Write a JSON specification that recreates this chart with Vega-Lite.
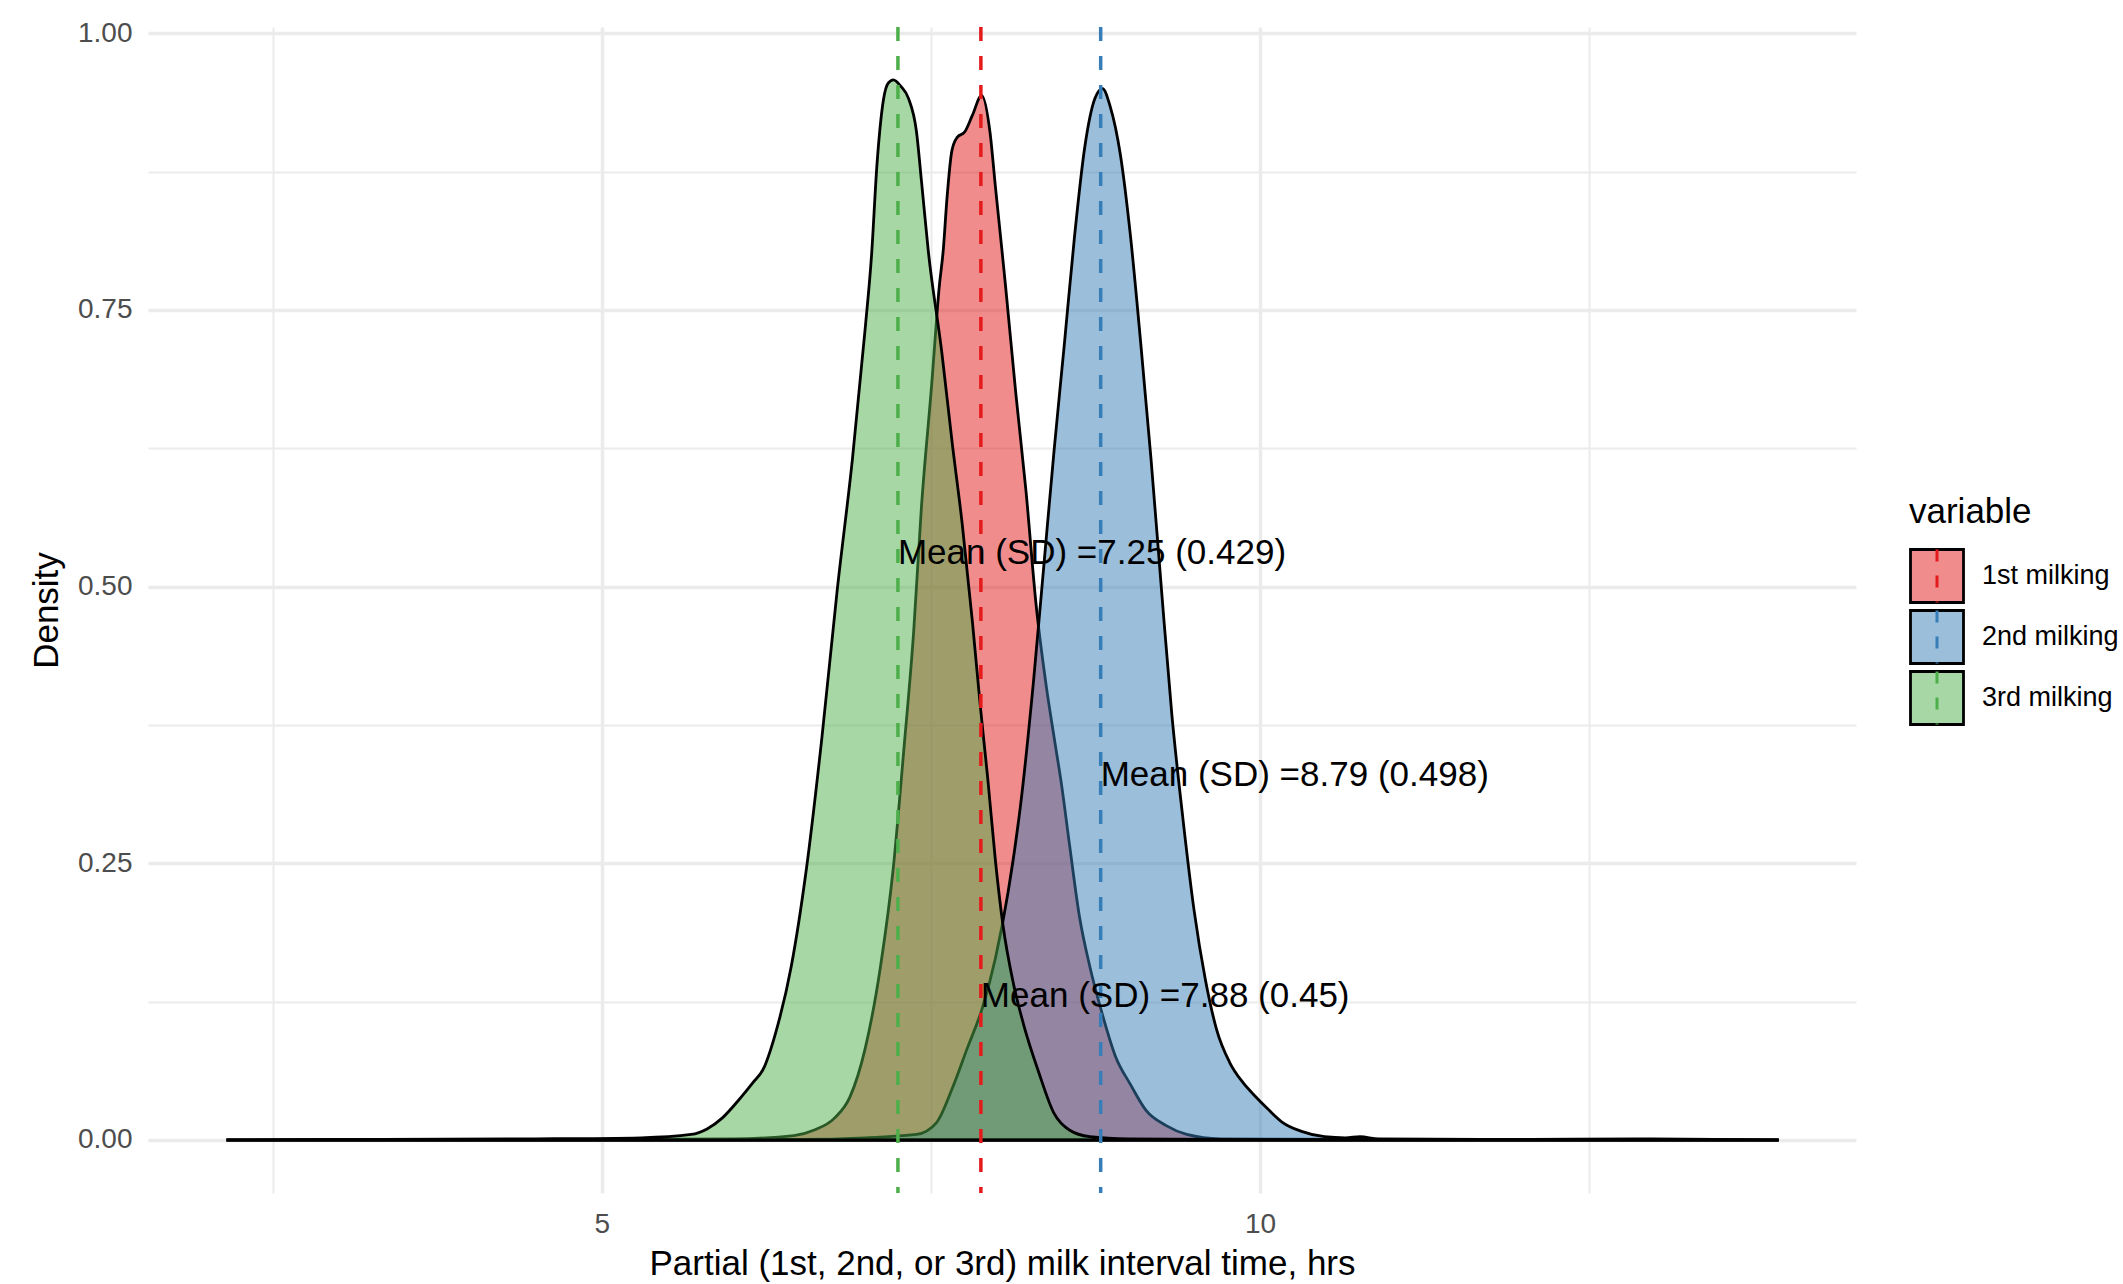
{
  "$schema": "https://vega.github.io/schema/vega-lite/v6.json",
  "autosize": "none",
  "width": 1708,
  "height": 1166,
  "padding": {"left": 148, "top": 27, "right": 267, "bottom": 91},
  "background": "white",
  "datasets": {
    "curves": [
      {"variable": "1st milking", "x": 2.15, "density": 0},
      {"variable": "1st milking", "x": 3.5, "density": 0.0005},
      {"variable": "1st milking", "x": 5.0, "density": 0.0005},
      {"variable": "1st milking", "x": 6.0, "density": 0.001},
      {"variable": "1st milking", "x": 6.46, "density": 0.004},
      {"variable": "1st milking", "x": 6.615, "density": 0.009},
      {"variable": "1st milking", "x": 6.77, "density": 0.02},
      {"variable": "1st milking", "x": 6.886, "density": 0.039},
      {"variable": "1st milking", "x": 7.002, "density": 0.083},
      {"variable": "1st milking", "x": 7.118, "density": 0.157},
      {"variable": "1st milking", "x": 7.215, "density": 0.246},
      {"variable": "1st milking", "x": 7.293, "density": 0.35},
      {"variable": "1st milking", "x": 7.37, "density": 0.46},
      {"variable": "1st milking", "x": 7.428, "density": 0.571},
      {"variable": "1st milking", "x": 7.506, "density": 0.682},
      {"variable": "1st milking", "x": 7.564, "density": 0.771},
      {"variable": "1st milking", "x": 7.595, "density": 0.805},
      {"variable": "1st milking", "x": 7.622, "density": 0.85},
      {"variable": "1st milking", "x": 7.66, "density": 0.894},
      {"variable": "1st milking", "x": 7.7, "density": 0.906},
      {"variable": "1st milking", "x": 7.758, "density": 0.911},
      {"variable": "1st milking", "x": 7.816, "density": 0.926},
      {"variable": "1st milking", "x": 7.886, "density": 0.944},
      {"variable": "1st milking", "x": 7.95, "density": 0.91},
      {"variable": "1st milking", "x": 7.99, "density": 0.862},
      {"variable": "1st milking", "x": 8.04, "density": 0.804},
      {"variable": "1st milking", "x": 8.068, "density": 0.771},
      {"variable": "1st milking", "x": 8.145, "density": 0.675},
      {"variable": "1st milking", "x": 8.223, "density": 0.586},
      {"variable": "1st milking", "x": 8.3, "density": 0.483},
      {"variable": "1st milking", "x": 8.378, "density": 0.409},
      {"variable": "1st milking", "x": 8.436, "density": 0.364},
      {"variable": "1st milking", "x": 8.494, "density": 0.32},
      {"variable": "1st milking", "x": 8.552, "density": 0.268},
      {"variable": "1st milking", "x": 8.63, "density": 0.201},
      {"variable": "1st milking", "x": 8.707, "density": 0.157},
      {"variable": "1st milking", "x": 8.804, "density": 0.113},
      {"variable": "1st milking", "x": 8.901, "density": 0.076},
      {"variable": "1st milking", "x": 9.017, "density": 0.05},
      {"variable": "1st milking", "x": 9.133, "density": 0.027},
      {"variable": "1st milking", "x": 9.288, "density": 0.013},
      {"variable": "1st milking", "x": 9.444, "density": 0.005},
      {"variable": "1st milking", "x": 9.7, "density": 0.001},
      {"variable": "1st milking", "x": 11.0, "density": 0.0005},
      {"variable": "1st milking", "x": 13.94, "density": 0},
      {"variable": "2nd milking", "x": 2.15, "density": 0},
      {"variable": "2nd milking", "x": 5.0, "density": 0.0003},
      {"variable": "2nd milking", "x": 6.5, "density": 0.0005},
      {"variable": "2nd milking", "x": 7.0, "density": 0.002},
      {"variable": "2nd milking", "x": 7.39, "density": 0.005},
      {"variable": "2nd milking", "x": 7.545, "density": 0.016},
      {"variable": "2nd milking", "x": 7.661, "density": 0.046},
      {"variable": "2nd milking", "x": 7.777, "density": 0.083},
      {"variable": "2nd milking", "x": 7.893, "density": 0.12},
      {"variable": "2nd milking", "x": 7.99, "density": 0.164},
      {"variable": "2nd milking", "x": 8.087, "density": 0.224},
      {"variable": "2nd milking", "x": 8.184, "density": 0.305},
      {"variable": "2nd milking", "x": 8.281, "density": 0.416},
      {"variable": "2nd milking", "x": 8.359, "density": 0.52},
      {"variable": "2nd milking", "x": 8.436, "density": 0.623},
      {"variable": "2nd milking", "x": 8.514, "density": 0.719},
      {"variable": "2nd milking", "x": 8.591, "density": 0.816},
      {"variable": "2nd milking", "x": 8.669, "density": 0.897},
      {"variable": "2nd milking", "x": 8.746, "density": 0.941},
      {"variable": "2nd milking", "x": 8.804, "density": 0.95},
      {"variable": "2nd milking", "x": 8.862, "density": 0.934},
      {"variable": "2nd milking", "x": 8.94, "density": 0.89},
      {"variable": "2nd milking", "x": 9.017, "density": 0.816},
      {"variable": "2nd milking", "x": 9.095, "density": 0.719},
      {"variable": "2nd milking", "x": 9.172, "density": 0.616},
      {"variable": "2nd milking", "x": 9.25, "density": 0.5},
      {"variable": "2nd milking", "x": 9.33, "density": 0.385},
      {"variable": "2nd milking", "x": 9.415, "density": 0.29},
      {"variable": "2nd milking", "x": 9.5, "density": 0.207},
      {"variable": "2nd milking", "x": 9.585, "density": 0.145},
      {"variable": "2nd milking", "x": 9.67, "density": 0.1},
      {"variable": "2nd milking", "x": 9.77, "density": 0.07},
      {"variable": "2nd milking", "x": 9.87, "density": 0.052},
      {"variable": "2nd milking", "x": 9.96, "density": 0.04},
      {"variable": "2nd milking", "x": 10.06, "density": 0.028},
      {"variable": "2nd milking", "x": 10.17, "density": 0.016},
      {"variable": "2nd milking", "x": 10.31, "density": 0.008},
      {"variable": "2nd milking", "x": 10.49, "density": 0.003},
      {"variable": "2nd milking", "x": 10.65, "density": 0.002},
      {"variable": "2nd milking", "x": 10.76, "density": 0.003},
      {"variable": "2nd milking", "x": 10.9, "density": 0.001},
      {"variable": "2nd milking", "x": 12.0, "density": 0.0005},
      {"variable": "2nd milking", "x": 12.9, "density": 0.001},
      {"variable": "2nd milking", "x": 13.94, "density": 0},
      {"variable": "3rd milking", "x": 2.15, "density": 0},
      {"variable": "3rd milking", "x": 4.5, "density": 0.001},
      {"variable": "3rd milking", "x": 5.3, "density": 0.002},
      {"variable": "3rd milking", "x": 5.68, "density": 0.005},
      {"variable": "3rd milking", "x": 5.8, "density": 0.01},
      {"variable": "3rd milking", "x": 5.917, "density": 0.02},
      {"variable": "3rd milking", "x": 6.033, "density": 0.035},
      {"variable": "3rd milking", "x": 6.15, "density": 0.052},
      {"variable": "3rd milking", "x": 6.227, "density": 0.064},
      {"variable": "3rd milking", "x": 6.324, "density": 0.098},
      {"variable": "3rd milking", "x": 6.44, "density": 0.157},
      {"variable": "3rd milking", "x": 6.556, "density": 0.246},
      {"variable": "3rd milking", "x": 6.673, "density": 0.364},
      {"variable": "3rd milking", "x": 6.789, "density": 0.497},
      {"variable": "3rd milking", "x": 6.905, "density": 0.616},
      {"variable": "3rd milking", "x": 7.002, "density": 0.734},
      {"variable": "3rd milking", "x": 7.05, "density": 0.8},
      {"variable": "3rd milking", "x": 7.09, "density": 0.88},
      {"variable": "3rd milking", "x": 7.14, "density": 0.94},
      {"variable": "3rd milking", "x": 7.176, "density": 0.955},
      {"variable": "3rd milking", "x": 7.215, "density": 0.958},
      {"variable": "3rd milking", "x": 7.273, "density": 0.952},
      {"variable": "3rd milking", "x": 7.331, "density": 0.941},
      {"variable": "3rd milking", "x": 7.39, "density": 0.912},
      {"variable": "3rd milking", "x": 7.43, "density": 0.865},
      {"variable": "3rd milking", "x": 7.48, "density": 0.804},
      {"variable": "3rd milking", "x": 7.583, "density": 0.712},
      {"variable": "3rd milking", "x": 7.661, "density": 0.631},
      {"variable": "3rd milking", "x": 7.738, "density": 0.557},
      {"variable": "3rd milking", "x": 7.816, "density": 0.468},
      {"variable": "3rd milking", "x": 7.874, "density": 0.394},
      {"variable": "3rd milking", "x": 7.932, "density": 0.327},
      {"variable": "3rd milking", "x": 7.99, "density": 0.253},
      {"variable": "3rd milking", "x": 8.048, "density": 0.194},
      {"variable": "3rd milking", "x": 8.126, "density": 0.142},
      {"variable": "3rd milking", "x": 8.203, "density": 0.105},
      {"variable": "3rd milking", "x": 8.32, "density": 0.061},
      {"variable": "3rd milking", "x": 8.436, "density": 0.024},
      {"variable": "3rd milking", "x": 8.552, "density": 0.009},
      {"variable": "3rd milking", "x": 8.707, "density": 0.003},
      {"variable": "3rd milking", "x": 9.0, "density": 0.001},
      {"variable": "3rd milking", "x": 10.0, "density": 0.0003},
      {"variable": "3rd milking", "x": 13.94, "density": 0}
    ],
    "means": [
      {"variable": "1st milking", "mean": 7.88, "sd": 0.45, "label_y": 0.13, "label": "Mean (SD) =7.88 (0.45)"},
      {"variable": "2nd milking", "mean": 8.79, "sd": 0.498, "label_y": 0.33, "label": "Mean (SD) =8.79 (0.498)"},
      {"variable": "3rd milking", "mean": 7.25, "sd": 0.429, "label_y": 0.53, "label": "Mean (SD) =7.25 (0.429)"}
    ]
  },
  "layer": [
    {
      "data": {"name": "curves"},
      "mark": {"type": "area", "stroke": "black", "strokeWidth": 2.8, "interpolate": "monotone"},
      "encoding": {
        "x": {
          "field": "x", "type": "quantitative",
          "title": "Partial (1st, 2nd, or 3rd) milk interval time, hrs",
          "scale": {"domain": [1.554, 14.527], "nice": false, "zero": false},
          "axis": {
            "values": [2.5, 5, 7.5, 10, 12.5],
            "labelExpr": "datum.value % 5 === 0 ? format(datum.value, 'd') : ''",
            "domain": false, "ticks": false, "tickSize": 0,
            "labelPadding": 17,
            "labelFontSize": 28, "labelColor": "#4D4D4D",
            "titleFontSize": 35, "titleColor": "black", "titleFontWeight": "normal",
            "titleBaseline": "alphabetic", "titleY": 81,
            "grid": true, "gridColor": "#EBEBEB",
            "gridWidth": {"condition": {"test": "datum.value % 5 === 0", "value": 3.5}, "value": 2}
          }
        },
        "y": {
          "field": "density", "type": "quantitative", "stack": null,
          "title": "Density",
          "scale": {"domain": [-0.0479, 1.0057], "nice": false, "zero": false},
          "axis": {
            "values": [0, 0.125, 0.25, 0.375, 0.5, 0.625, 0.75, 0.875, 1],
            "labelExpr": "(datum.value * 4) % 1 === 0 ? format(datum.value, '.2f') : ''",
            "domain": false, "ticks": false, "tickSize": 0,
            "labelPadding": 16,
            "labelFontSize": 28, "labelColor": "#4D4D4D",
            "titleFontSize": 35, "titleColor": "black", "titleFontWeight": "normal",
            "titleBaseline": "middle", "titleX": -102, "titleY": 583, "titleAngle": -90,
            "grid": true, "gridColor": "#EBEBEB",
            "gridWidth": {"condition": {"test": "(datum.value * 4) % 1 === 0", "value": 3.5}, "value": 2}
          }
        },
        "fill": {
          "field": "variable", "type": "nominal",
          "scale": {"range": ["rgba(228,26,28,0.5)", "rgba(55,126,184,0.5)", "rgba(77,175,74,0.5)"]},
          "legend": {
            "title": "variable", "orient": "none", "legendX": 1761, "legendY": 468,
            "padding": 0,
            "titleFontSize": 35, "titleFontWeight": "normal", "titleColor": "black", "titlePadding": 18,
            "labelFontSize": 27, "labelColor": "black", "labelOffset": 17,
            "symbolType": "square", "symbolSize": 2809,
            "symbolStrokeColor": "black", "symbolStrokeWidth": 2.8,
            "rowPadding": -5
          }
        }
      }
    },
    {
      "data": {"name": "means"},
      "mark": {"type": "rule", "strokeDash": [14, 15], "strokeWidth": 3.5},
      "encoding": {
        "x": {"field": "mean", "type": "quantitative", "title": "Partial (1st, 2nd, or 3rd) milk interval time, hrs"},
        "stroke": {
          "field": "variable", "type": "nominal",
          "scale": {"range": ["#E41A1C", "#377EB8", "#4DAF4A"]},
          "legend": {
            "title": "variable", "orient": "none", "legendX": 1761, "legendY": 468,
            "padding": 0,
            "titleFontSize": 35, "titleFontWeight": "normal", "titleOpacity": 0, "titlePadding": 18,
            "labelFontSize": 27, "labelOpacity": 0, "labelOffset": 17,
            "symbolType": "M0,-1L0,1", "symbolSize": 2809,
            "symbolStrokeWidth": 3, "symbolDash": [12, 14],
            "rowPadding": -5
          }
        }
      }
    },
    {
      "data": {"name": "means"},
      "mark": {"type": "text", "align": "left", "baseline": "middle", "fontSize": 35, "font": "Liberation Sans", "color": "black"},
      "encoding": {
        "x": {"field": "mean", "type": "quantitative", "title": "Partial (1st, 2nd, or 3rd) milk interval time, hrs"},
        "y": {"field": "label_y", "type": "quantitative", "title": "Density"},
        "text": {"field": "label"}
      }
    }
  ],
  "config": {
    "view": {"stroke": null},
    "font": "Liberation Sans",
    "axis": {"labelFont": "Liberation Sans", "titleFont": "Liberation Sans"},
    "legend": {"labelFont": "Liberation Sans", "titleFont": "Liberation Sans"}
  }
}
